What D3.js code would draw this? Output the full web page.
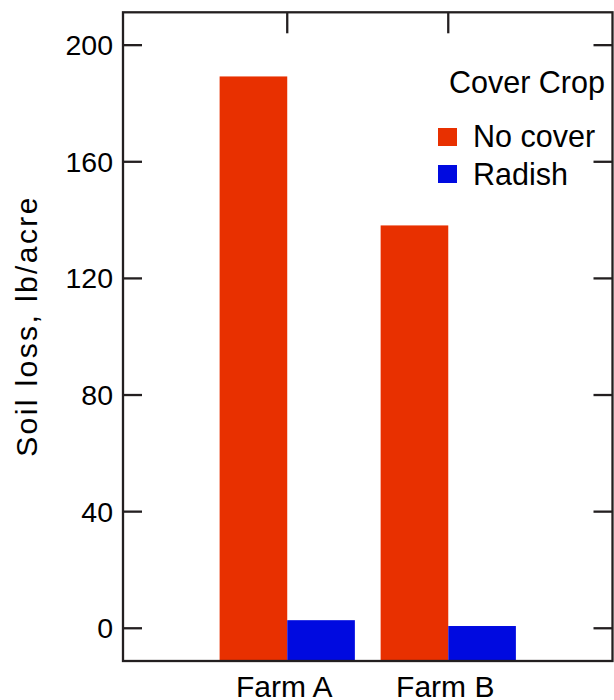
<!DOCTYPE html>
<html>
<head>
<meta charset="utf-8">
<script src="https://cdn.jsdelivr.net/npm/d3@7"></script>
<style>
  html, body { margin: 0; padding: 0; background: #fff; }
  svg { display: block; font-family: "Liberation Sans", Arial, sans-serif; }
</style>
</head>
<body>
<svg id="chart" width="614" height="700"></svg>
<script>
const farms = ["Farm A", "Farm B"];
const coverCrops = ["No cover", "Radish"];
const noCover = [189.1, 138.0];
const radish = [2.6, 0.6];
const yTicks = [0, 40, 80, 120, 160, 200];
const colors = ["#e83000", "#000ae0"];

(function () {
const svg = d3.select("#chart");
const L = 123, R = 612.5, T = 12.3, B = 661;
const ink = "#231f20";

const y = d3.scaleLinear().domain([-11.4, 211.1]).range([B, T]);
const x = d3.scaleBand().domain(farms).range([L, R]).paddingInner(0.16).paddingOuter(0.6);
const xs = d3.scaleBand().domain(coverCrops).range([0, x.bandwidth()]);

const series = [noCover, radish];
const data = [];
farms.forEach((f, i) => coverCrops.forEach((c, j) => data.push({farm: f, crop: c, value: series[j][i], k: j})));

svg.append("g").selectAll("rect").data(data).join("rect")
  .attr("x", d => x(d.farm) + xs(d.crop))
  .attr("width", xs.bandwidth())
  .attr("y", d => y(d.value))
  .attr("height", d => y.range()[0] - y(d.value))
  .attr("fill", d => colors[d.k]);

// left axis
const leftAx = svg.append("g").attr("transform", `translate(${L},0)`)
  .call(d3.axisLeft(y).tickValues(yTicks).tickSize(-19).tickPadding(10).tickSizeOuter(0));
leftAx.select(".domain").remove();
leftAx.selectAll(".tick line").attr("stroke", ink).attr("stroke-width", 2.3);
leftAx.selectAll(".tick text").attr("font-size", 28.5).attr("fill", "#000").attr("x", -10).attr("dy", "0.35em");

// right axis
const rightAx = svg.append("g").attr("transform", `translate(${R},0)`)
  .call(d3.axisRight(y).tickValues(yTicks).tickSize(-19).tickFormat("").tickSizeOuter(0));
rightAx.select(".domain").remove();
rightAx.selectAll(".tick line").attr("stroke", ink).attr("stroke-width", 2.3);

// top axis
const topAx = svg.append("g").attr("transform", `translate(0,${T})`)
  .call(d3.axisTop(x).tickSize(-21).tickFormat("").tickSizeOuter(0));
topAx.select(".domain").remove();
topAx.selectAll(".tick line").attr("stroke", ink).attr("stroke-width", 2.3);

// bottom axis labels
const bottomAx = svg.append("g").attr("transform", `translate(0,${B})`)
  .call(d3.axisBottom(x).tickSize(0).tickPadding(0).tickSizeOuter(0));
bottomAx.select(".domain").remove();
bottomAx.selectAll(".tick text").attr("font-size", 30).attr("fill", "#000")
  .attr("dy", null).attr("y", 36).attr("dx", -3);

// frame
svg.append("rect").attr("x", L).attr("y", T).attr("width", R - L).attr("height", B - T)
  .attr("fill", "none").attr("stroke", ink).attr("stroke-width", 2.3);

// y label
svg.append("text")
  .attr("transform", `translate(37,326) rotate(-90)`)
  .attr("text-anchor", "middle")
  .attr("font-size", 30).attr("letter-spacing", 2.4).attr("fill", "#000")
  .text("Soil loss, lb/acre");

// legend
const lg = svg.append("g");
lg.append("text").attr("x", 449).attr("y", 93).attr("font-size", 30.5).attr("fill", "#000").text("Cover Crop");
coverCrops.forEach((c, i) => {
  lg.append("rect").attr("x", 438).attr("y", 128 + i * 37).attr("width", 19).attr("height", 18).attr("fill", colors[i]);
  lg.append("text").attr("x", 473).attr("y", 147 + i * 38).attr("font-size", 30.5).attr("fill", "#000").text(c);
});
})();
</script>
</body>
</html>
